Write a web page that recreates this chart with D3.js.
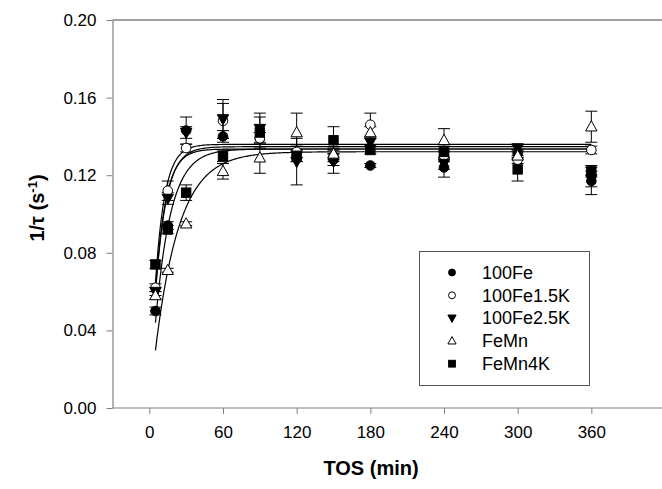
<!DOCTYPE html>
<html><head><meta charset="utf-8">
<script src="https://cdn.jsdelivr.net/npm/d3@7"></script>
<style>body{margin:0;background:#fff}svg{display:block;font-family:Arial,"Liberation Sans",sans-serif}</style>
</head><body><svg id="c" width="662" height="489"></svg>
<script>
const times = [5, 15, 30, 60, 90, 120, 150, 180, 240, 300, 360];
const seriesNames = ["100Fe", "100Fe1.5K", "100Fe2.5K", "FeMn", "FeMn4K"];
const val100Fe    = [0.050, 0.094, 0.143, 0.140, 0.139, 0.130, 0.128, 0.125, 0.124, 0.131, 0.117];
const err100Fe    = [0.002, 0.002, 0.007, 0.003, 0.003, 0.003, 0.003, 0.001, 0.005, 0.002, 0.007];
const val100Fe15K = [0.062, 0.112, 0.134, 0.148, 0.139, 0.132, 0.130, 0.146, 0.130, 0.128, 0.133];
const err100Fe15K = [0.002, 0.005, 0.002, 0.009, 0.003, 0.003, 0.003, 0.006, 0.003, 0.002, 0.002];
const val100Fe25K = [0.060, 0.108, 0.142, 0.149, 0.144, 0.127, 0.127, 0.137, 0.126, 0.134, 0.118];
const err100Fe25K = [0.002, 0.003, 0.003, 0.010, 0.008, 0.012, 0.006, 0.002, 0.003, 0.001, 0.004];
const valFeMn     = [0.058, 0.071, 0.095, 0.122, 0.129, 0.142, 0.131, 0.142, 0.138, 0.130, 0.145];
const errFeMn     = [0.002, 0.001, 0.001, 0.004, 0.008, 0.010, 0.003, 0.003, 0.006, 0.002, 0.008];
const valFeMn4K   = [0.074, 0.092, 0.111, 0.130, 0.142, 0.130, 0.138, 0.133, 0.132, 0.123, 0.122];
const errFeMn4K   = [0.002, 0.002, 0.004, 0.003, 0.008, 0.003, 0.007, 0.002, 0.003, 0.006, 0.003];
const fitPlateau  = [0.1335, 0.1359, 0.1347, 0.1321, 0.1335];
const fitRate     = [0.12, 0.13, 0.115, 0.051, 0.08];
const xTicks = [0, 60, 120, 180, 240, 300, 360];
const yTicks = [0, 0.04, 0.08, 0.12, 0.16, 0.20];
const symbols = ["circleFilled", "circleOpen", "triDownFilled", "triUpOpen", "squareFilled"];

const vals = [val100Fe, val100Fe15K, val100Fe25K, valFeMn, valFeMn4K];
const errs = [err100Fe, err100Fe15K, err100Fe25K, errFeMn, errFeMn4K];

const svg = d3.select("#c");
const x = d3.scaleLinear().domain([-30, 420]).range([112.5, 665]);
const y = d3.scaleLinear().domain([0, 0.2]).range([408, 20]);
const axisColor = "#808080";

svg.append("line").attr("x1", x(-30)).attr("x2", 662).attr("y1", y(0.2)).attr("y2", y(0.2))
  .attr("stroke", axisColor).attr("stroke-width", 1.5);

const gx = svg.append("g").attr("transform", `translate(0,${y(0)})`)
  .call(d3.axisBottom(x).tickValues(xTicks).tickSize(6).tickPadding(12).tickSizeOuter(0));
const gy = svg.append("g").attr("transform", `translate(${x(-30)},0)`)
  .call(d3.axisLeft(y).tickValues(yTicks).tickFormat(d3.format(".2f")).tickSize(6).tickPadding(10).tickSizeOuter(0));
[gx, gy].forEach(g => {
  g.select(".domain").attr("stroke", axisColor).attr("stroke-width", 1.2);
  g.selectAll(".tick line").attr("stroke", axisColor);
  g.selectAll(".tick text").attr("fill", "#000").style("font-size", "17px").style("font-family", "Arial, 'Liberation Sans', sans-serif");
});
gx.select(".domain").attr("d", `M${x(-30)},0H662`);

svg.append("text").attr("x", 371).attr("y", 475).attr("text-anchor", "middle")
  .style("font-size", "20px").style("font-weight", "bold").text("TOS (min)");
const yt = svg.append("text").attr("transform", "translate(44,208) rotate(-90)").attr("text-anchor", "middle")
  .style("font-size", "20px").style("font-weight", "bold");
yt.append("tspan").text("1/\u03c4 (s");
yt.append("tspan").attr("baseline-shift", "super").style("font-size", "13px").text("-1");
yt.append("tspan").text(")");

const tFine = d3.range(5, 360.5, 1);
const line = d3.line().x(d => x(d[0])).y(d => y(d[1]));
fitPlateau.forEach((p, i) => {
  svg.append("path").attr("d", line(tFine.map(t => [t, p * (1 - Math.exp(-fitRate[i] * t))])))
    .attr("fill", "none").attr("stroke", "#000").attr("stroke-width", 1.2);
});

function drawSymbol(g, type, cx, cy, k) {
  if (type === "circleFilled" || type === "circleOpen") {
    g.append("circle").attr("cx", cx).attr("cy", cy).attr("r", 4.8 * k)
      .attr("fill", type === "circleFilled" ? "#000" : "#fff").attr("stroke", "#000").attr("stroke-width", 1);
  } else if (type === "triDownFilled") {
    const h = 5.7 * k;
    g.append("path").attr("d", `M${cx - h},${cy - h * 0.75}L${cx + h},${cy - h * 0.75}L${cx},${cy + h * 1.05}Z`)
      .attr("fill", "#000").attr("stroke", "#000").attr("stroke-width", 1);
  } else if (type === "triUpOpen") {
    const h = 5.7 * k;
    g.append("path").attr("d", `M${cx - h},${cy + h * 0.75}L${cx + h},${cy + h * 0.75}L${cx},${cy - h * 1.05}Z`)
      .attr("fill", "#fff").attr("stroke", "#000").attr("stroke-width", 1);
  } else {
    const h = 4.7 * k;
    g.append("rect").attr("x", cx - h).attr("y", cy - h).attr("width", 2 * h).attr("height", 2 * h)
      .attr("fill", "#000").attr("stroke", "#000").attr("stroke-width", 1);
  }
}

const eg = svg.append("g").attr("stroke", "#000").attr("stroke-width", 1);
vals.forEach((v, i) => {
  v.forEach((d, j) => {
    const e = errs[i][j], cx = x(times[j]);
    eg.append("line").attr("x1", cx).attr("x2", cx).attr("y1", y(d - e)).attr("y2", y(d + e));
    [d - e, d + e].forEach(yy => eg.append("line").attr("x1", cx - 6).attr("x2", cx + 6).attr("y1", y(yy)).attr("y2", y(yy)));
  });
});
const sg = svg.append("g");
vals.forEach((v, i) => v.forEach((d, j) => drawSymbol(sg, symbols[i], x(times[j]), y(d), 1)));

const lg = svg.append("g");
lg.append("rect").attr("x", 419.5).attr("y", 251.5).attr("width", 170).attr("height", 134)
  .attr("fill", "#fff").attr("stroke", "#555").attr("stroke-width", 1);
seriesNames.forEach((n, i) => {
  const yy = 272.5 + i * 22.8;
  drawSymbol(lg, symbols[i], 452, yy, 0.72);
  lg.append("text").attr("x", 482).attr("y", yy).attr("dy", "0.35em").style("font-size", "18px").text(n);
});
</script></body></html>
